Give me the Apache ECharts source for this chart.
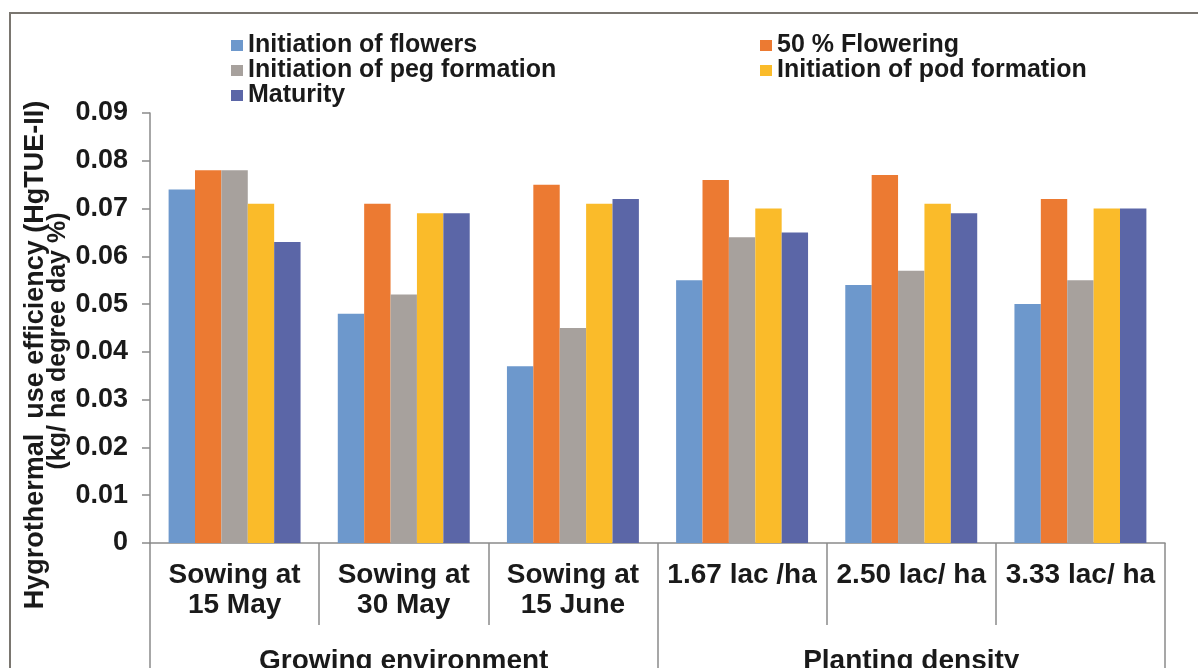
<!DOCTYPE html>
<html>
<head>
<meta charset="utf-8">
<title>HgTUE-II</title>
<script src="https://cdn.jsdelivr.net/npm/echarts@6/dist/echarts.min.js"></script>
<style>
  html, body { margin: 0; padding: 0; background: #fff; }
  #chart { width: 1198px; height: 668px; }
</style>
</head>
<body>
<div id="chart"></div>
<script>
const categories = ['Sowing at\n15 May', 'Sowing at\n30 May', 'Sowing at\n15 June', '1.67 lac /ha', '2.50 lac/ ha', '3.33 lac/ ha']
const groups = ['Growing environment', 'Planting density']
const seriesNames = ['Initiation of flowers', '50 % Flowering', 'Initiation of peg formation', 'Initiation of pod formation', 'Maturity']
const flowers = [0.074, 0.048, 0.037, 0.055, 0.054, 0.050]
const flowering50 = [0.078, 0.071, 0.075, 0.076, 0.077, 0.072]
const pegFormation = [0.078, 0.052, 0.045, 0.064, 0.057, 0.055]
const podFormation = [0.071, 0.069, 0.071, 0.070, 0.071, 0.070]
const maturity = [0.063, 0.069, 0.072, 0.065, 0.069, 0.070]
const yTicks = { min: 0, max: 0.09, interval: 0.01 }

const colors = ['#6d98cc', '#ec7a32', '#a7a19d', '#fabb2a', '#5b66a7']
const font = 'Arial, "Liberation Sans", sans-serif'
const textColor = '#1a1a1a'
const lineColor = '#8a8a8a'

const chart = echarts.init(document.getElementById('chart'))

const values = [flowers, flowering50, pegFormation, podFormation, maturity]
const series = seriesNames.map((name, i) => ({
    name: name,
    type: 'bar',
    xAxisIndex: 0,
    barGap: 0,
    barCategoryGap: '22%',
    itemStyle: { color: colors[i] },
    data: values[i]
}))

const legendText = {
    color: textColor,
    fontFamily: font,
    fontWeight: 'bold',
    fontSize: 25
}

const option = {
    animation: false,
    color: colors,
    grid: {
        left: 150,
        right: 33,
        top: 113,
        bottom: 125,
        containLabel: false,
        outerBoundsMode: 'none'
    },
    legend: [{
        orient: 'vertical',
        left: 226,
        top: 28,
        icon: 'rect',
        itemWidth: 12,
        itemHeight: 11,
        itemGap: 0,
        textStyle: legendText,
        data: [seriesNames[0], seriesNames[2], seriesNames[4]]
    }, {
        orient: 'vertical',
        left: 755,
        top: 28,
        icon: 'rect',
        itemWidth: 12,
        itemHeight: 11,
        itemGap: 0,
        textStyle: legendText,
        data: [seriesNames[1], seriesNames[3]]
    }],
    xAxis: [{
        type: 'category',
        position: 'bottom',
        data: categories,
        axisLine: { show: true, lineStyle: { color: lineColor, width: 1.5 } },
        axisTick: { show: true, interval: 0, length: 82, lineStyle: { color: lineColor, width: 1.5 } },
        axisLabel: {
            interval: 0,
            margin: 17,
            color: textColor,
            fontFamily: font,
            fontWeight: 'bold',
            fontSize: 28,
            lineHeight: 30
        }
    }, {
        type: 'category',
        position: 'bottom',
        data: groups,
        axisLine: { show: false },
        axisTick: { show: true, interval: 0, length: 140, lineStyle: { color: lineColor, width: 1.5 } },
        axisLabel: {
            interval: 0,
            margin: 104,
            color: textColor,
            fontFamily: font,
            fontWeight: 'bold',
            fontSize: 28
        }
    }],
    yAxis: {
        type: 'value',
        min: yTicks.min,
        max: yTicks.max,
        interval: yTicks.interval,
        splitLine: { show: false },
        axisLine: { show: true, lineStyle: { color: lineColor, width: 1.5 } },
        axisTick: { show: true, length: 8, lineStyle: { color: lineColor, width: 1.5 } },
        axisLabel: {
            margin: 22,
            color: textColor,
            fontFamily: font,
            fontWeight: 'bold',
            fontSize: 27,
            formatter: function (val) {
                return val === 0 ? '0' : val.toFixed(2)
            }
        }
    },
    graphic: [{
        type: 'rect',
        silent: true,
        shape: { x: 10, y: 13, width: 1200, height: 700 },
        style: { fill: 'none', stroke: '#7a7670', lineWidth: 2 }
    }, {
        type: 'text',
        x: 36,
        y: 355,
        rotation: Math.PI / 2,
        style: {
            text: 'Hygrothermal  use efficiency (HgTUE-II)',
            fill: textColor,
            font: 'bold 27px ' + font,
            textAlign: 'center',
            textVerticalAlign: 'middle'
        }
    }, {
        type: 'text',
        x: 58,
        y: 341,
        rotation: Math.PI / 2,
        style: {
            text: '(kg/ ha degree day %)',
            fill: textColor,
            font: 'bold 25px ' + font,
            textAlign: 'center',
            textVerticalAlign: 'middle'
        }
    }],
    series: series
}

chart.setOption(option)
</script>
</body>
</html>
